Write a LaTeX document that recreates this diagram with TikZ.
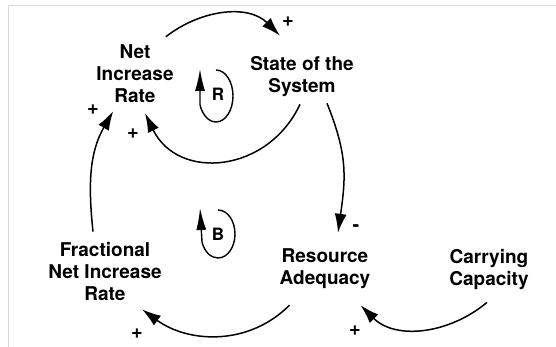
\documentclass[tikz,border=0pt]{standalone}
\usepackage{fontspec}
\setmainfont{TeX Gyre Heros}
\usetikzlibrary{arrows.meta}

\tikzset{
  var/.style={font=\fontsize{19}{22}\selectfont\bfseries, align=center, inner sep=0pt},
  link/.style={-{Latex[length=19pt,width=12pt]}, line width=1.5pt},
  sign/.style={font=\fontsize{20}{20}\selectfont\bfseries, inner sep=0pt},
  loopmark/.style={-{Latex[length=22pt,width=10pt]}, line width=1.4pt},
  looplabel/.style={font=\fontsize{17}{17}\selectfont\bfseries, inner sep=0pt}
}

\begin{document}
\begin{tikzpicture}[x=1pt,y=1pt]
  \useasboundingbox (0,0) rectangle (556,-347);
  \draw[black!15, line width=1pt] (8,-347) -- (8,-6) -- (556,-6);

  \node[var] (nir) at (135,-74) {Net\\Increase\\Rate};
  \node[var] (sos) at (302,-77) {State of the\\System};
  \node[var] (fnir) at (105,-272) {Fractional\\Net Increase\\Rate};
  \node[var] (ra) at (325,-269) {Resource\\Adequacy};
  \node[var] (cc) at (489,-270) {Carrying\\Capacity};

  \draw[link] ([shift={(-8,8)}]nir.north east) to[out=38,in=135] ([shift={(-22,21)}]sos.north);
  \draw[link] ([shift={(-2,-7)}]sos.south) to[out=-115,in=-64,looseness=1.25] ([shift={(10,-10)}]nir.south);
  \draw[link] ([shift={(25,-6)}]sos.south) to[out=-68,in=82,looseness=1.1] ([shift={(13,16)}]ra.north);
  \draw[link] ([shift={(-12,11)}]fnir.north) to[out=96,in=-120] ([shift={(17,-8)}]nir.south west);
  \draw[link] ([shift={(10,-16)}]ra.south west) to[out=-135,in=-36] ([shift={(37,-8)}]fnir.south);
  \draw[link] ([shift={(-2,-12)}]cc.south) to[out=-140,in=-45] ([shift={(-10,-16)}]ra.south east);

  \node[sign] (s1) at (288,-22) {+};
  \node[sign] (s2) at (93,-110) {+};
  \node[sign] (s3) at (133,-134) {+};
  \node[sign] (s4) at (356,-228) {-};
  \node[sign] (s5) at (137,-334) {+};
  \node[sign] (s6) at (355,-331) {+};

  % loop markers
  \draw[loopmark] (216,-96) ++(90:17 and 26) arc[start angle=90, end angle=-160, x radius=17, y radius=26] -- (200,-69);
  \node[looplabel] (r) at (218,-94) {R};
  \draw[loopmark] (218,-234) ++(90:17 and 24) arc[start angle=90, end angle=-160, x radius=17, y radius=24] -- (200,-208);
  \node[looplabel] (b) at (218,-234) {B};
\end{tikzpicture}
\end{document}
